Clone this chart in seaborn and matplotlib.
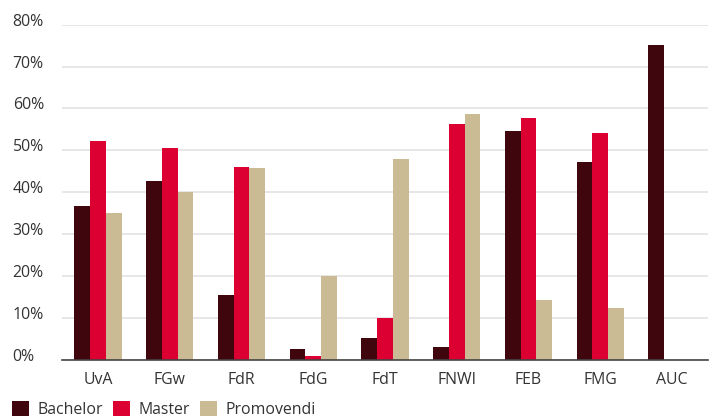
"""Share of women per faculty: Bachelor, Master and Promovendi."""

import matplotlib.pyplot as plt
import matplotlib.transforms as mtransforms
import numpy as np
import pandas as pd
import seaborn as sns

categories = ["UvA", "FGw", "FdR", "FdG", "FdT", "FNWI", "FEB", "FMG", "AUC"]
bachelor = [36.7, 42.7, 15.5, 2.6, 5.2, 3.0, 54.7, 47.1, 75.2]
master = [52.3, 50.5, 45.9, 1.0, 10.0, 56.3, 57.7, 54.1, np.nan]
promovendi = [35.0, 40.0, 45.7, 19.9, 47.9, 58.6, 14.2, 12.3, np.nan]
series_names = ["Bachelor", "Master", "Promovendi"]
y_ticks = [0, 10, 20, 30, 40, 50, 60, 70, 80]

colors = ["#40060e", "#dc0032", "#cbbb95"]
text_color = "#333333"
font_size = 11.4

df = pd.DataFrame(
    {
        "faculty": categories * 3,
        "group": [s for s in series_names for _ in categories],
        "value": bachelor + master + promovendi,
    }
)

sns.set_theme(style="white")
plt.rcParams["font.family"] = ["Open Sans", "DejaVu Sans"]

fig = plt.figure(figsize=(7.10, 4.19), dpi=100)
ax = fig.add_axes([62 / 710, 1 - 359.7 / 419, 646 / 710, 335 / 419])

sns.barplot(
    data=df,
    x="faculty",
    y="value",
    hue="group",
    palette=colors,
    width=0.66,
    linewidth=0,
    saturation=1,
    ax=ax,
    legend=True,
)

ax.set_ylim(0, 80)
ax.set_yticks(y_ticks)
ax.set_yticklabels([f"{t}%" for t in y_ticks])
ax.yaxis.grid(True, color="#e3e3e3", linewidth=1.2)
ax.set_axisbelow(True)
ax.set_xlabel("")
ax.set_ylabel("")
for side in ["left", "right", "top"]:
    ax.spines[side].set_visible(False)
ax.spines["bottom"].set_color("#444444")
ax.spines["bottom"].set_linewidth(1.2)

ax.tick_params(axis="y", length=0, pad=35.5, labelsize=font_size, labelcolor=text_color)
ax.tick_params(axis="x", length=0, pad=8.5, labelsize=font_size, labelcolor=text_color)
shift = mtransforms.ScaledTranslation(0, 0.05, fig.dpi_scale_trans)
for lbl in ax.get_yticklabels():
    lbl.set_horizontalalignment("left")
    lbl.set_transform(lbl.get_transform() + shift)

handles, labels = ax.get_legend_handles_labels()
ax.legend_.remove()
fig.legend(
    handles,
    labels,
    loc="lower left",
    bbox_to_anchor=(12 / 710, 1 / 419),
    ncol=3,
    frameon=False,
    fontsize=font_size,
    labelcolor=text_color,
    handlelength=1.05,
    handleheight=1.05,
    handletextpad=0.55,
    columnspacing=0.65,
    borderpad=0,
    borderaxespad=0,
)

fig.savefig("out.png", dpi=100)
plt.close(fig)
